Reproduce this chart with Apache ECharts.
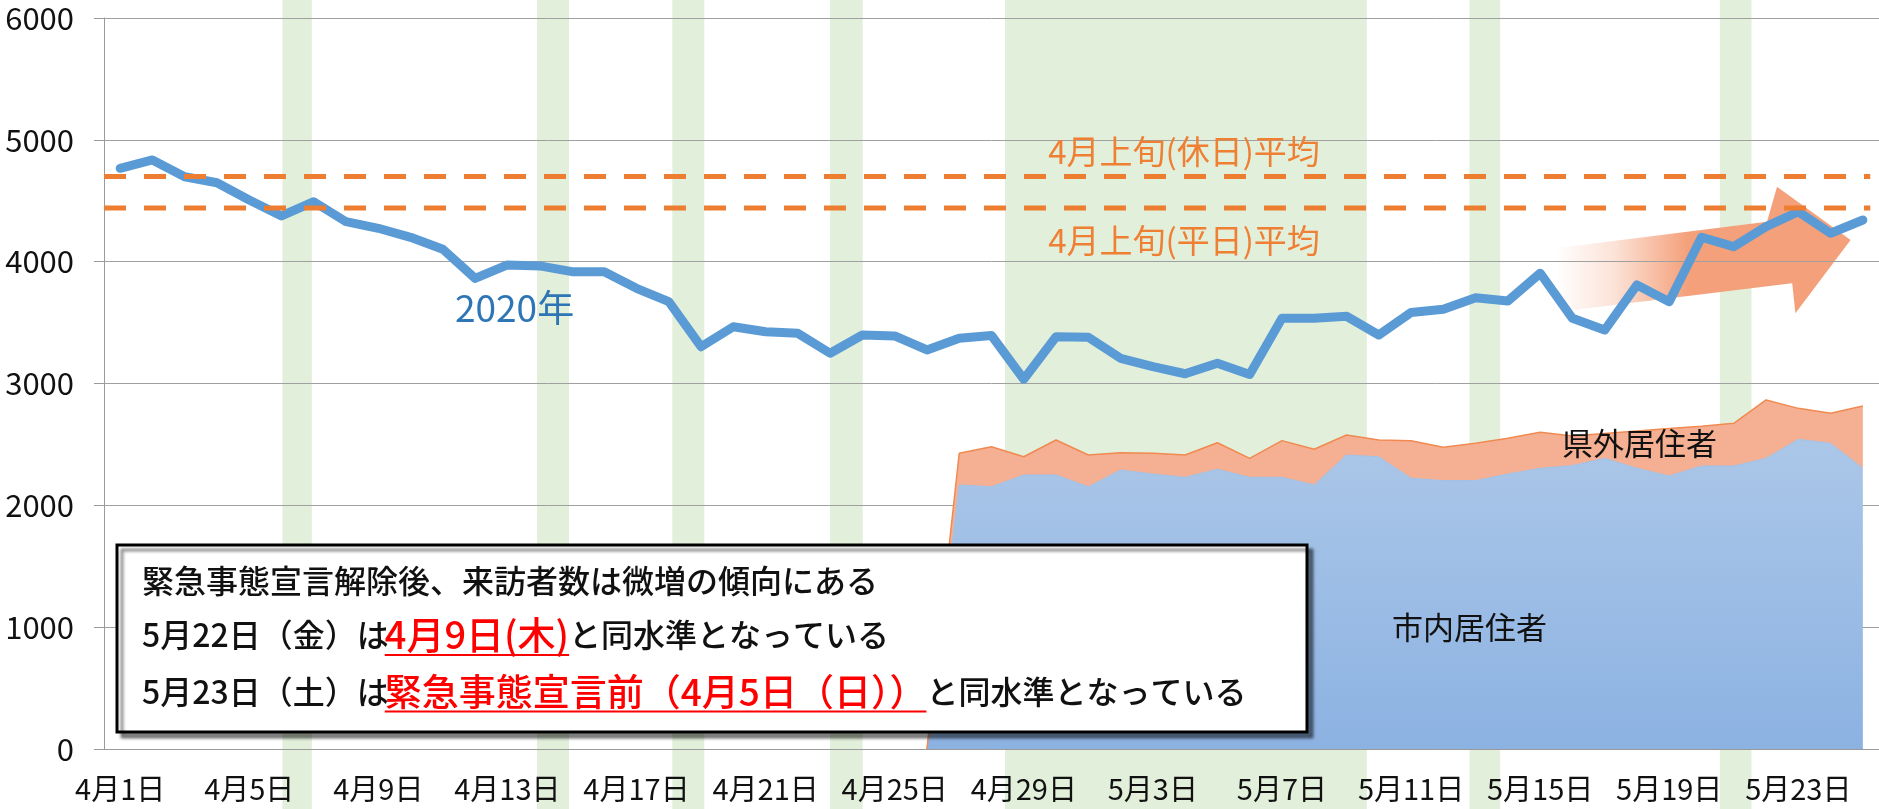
<!DOCTYPE html>
<html><head><meta charset="utf-8">
<script src="https://cdn.jsdelivr.net/npm/echarts@6/dist/echarts.min.js"></script>
<style>html,body{margin:0;padding:0;background:#fff}#c{width:1879px;height:809px}</style>
</head><body><div id="c"></div>
<script>
const categories = ['4月1日','4月2日','4月3日','4月4日','4月5日','4月6日','4月7日','4月8日','4月9日','4月10日',
'4月11日','4月12日','4月13日','4月14日','4月15日','4月16日','4月17日','4月18日','4月19日','4月20日',
'4月21日','4月22日','4月23日','4月24日','4月25日','4月26日','4月27日','4月28日','4月29日','4月30日',
'5月1日','5月2日','5月3日','5月4日','5月5日','5月6日','5月7日','5月8日','5月9日','5月10日',
'5月11日','5月12日','5月13日','5月14日','5月15日','5月16日','5月17日','5月18日','5月19日','5月20日',
'5月21日','5月22日','5月23日','5月24日','5月25日'];

const visitors2020 = [4766,4835,4697,4648,4506,4375,4492,4328,4274,4200,
4102,3863,3973,3965,3918,3918,3781,3672,3302,3466,
3425,3412,3248,3398,3390,3275,3371,3394,3035,3384,
3380,3207,3138,3080,3166,3074,3535,3535,3552,3398,
3583,3609,3704,3677,3905,3535,3439,3809,3672,4200,
4123,4287,4410,4233,4342];

const cityResidents = [null,null,null,null,null,null,null,null,null,null,
null,null,null,null,null,null,null,null,null,null,
null,null,null,null,null,0,2167,2153,2249,2249,
2153,2290,2257,2230,2296,2230,2230,2167,2413,2399,
2222,2203,2203,2257,2304,2326,2386,2304,2241,2323,
2323,2386,2542,2509,2304];

const outOfPrefResidents = [null,null,null,null,null,null,null,null,null,null,
null,null,null,null,null,null,null,null,null,null,
null,null,null,null,null,0,260,328,150,287,
260,142,170,183,218,156,301,293,164,137,
308,273,306,293,296,244,204,306,389,327,
350,479,254,246,511];

const avgHoliday = 4700;
const avgWeekday = 4440;

// shaded periods, in day units from the left edge of the category axis
const bandRanges = [[5.53,6.44],[13.42,14.41],[17.61,18.60],[22.50,23.51],[27.92,39.13],[42.31,43.26],[50.07,51.05]];

// trend arrow outline in (day units, visitors)
const arrowShape = [[44.98,4110],[51.53,4328],[51.84,4615],[54.12,4178],[52.41,3576],[52.31,3822],[45.08,3589]];

const FONT = '"Noto Sans CJK JP", "Noto Sans", sans-serif';
const GRAY = '#9a9a9a';

const option = {
  animation: false,
  backgroundColor: '#ffffff',
  grid: {left: 104, right: 0, top: 18, bottom: 60, containLabel: false},
  xAxis: [
    {type: 'category', data: categories, boundaryGap: true,
     axisLine: {lineStyle: {color: GRAY, width: 1}},
     axisTick: {interval: 3, length: 11, lineStyle: {color: GRAY}},
     axisLabel: {interval: 3, margin: 25, fontSize: 29, fontFamily: FONT, color: '#111'},
     splitLine: {show: false}},
    {type: 'value', min: 0, max: 55, show: false}
  ],
  yAxis: {type: 'value', min: 0, max: 6000, interval: 1000,
    axisLine: {show: true, lineStyle: {color: GRAY}},
    axisTick: {show: true, length: 10, lineStyle: {color: GRAY}},
    axisLabel: {margin: 30, fontSize: 31, fontFamily: FONT, color: '#111',
                formatter: function (v) { return String(v); }},
    splitLine: {lineStyle: {color: '#a0a0a0', width: 1}}},
  series: [
    {name: '市内居住者', type: 'line', stack: 'res', data: cityResidents, symbol: 'none', z: 2,
     lineStyle: {color: '#9fc0e6', width: 1},
     areaStyle: {opacity: 1, color: {type: 'linear', x: 0, y: 0, x2: 0, y2: 1,
       colorStops: [{offset: 0, color: '#abc7e8'}, {offset: 1, color: '#8cb2e2'}]}}},
    {name: '県外居住者', type: 'line', stack: 'res', data: outOfPrefResidents, symbol: 'none', z: 2,
     lineStyle: {color: '#f08a50', width: 1.5},
     areaStyle: {opacity: 1, color: '#f5b094'}},
    {name: '2020年', type: 'line', data: visitors2020, symbol: 'none', z: 5,
     lineStyle: {color: '#5B9BD5', width: 9, cap: 'round', join: 'round'}},
    {name: '4月上旬(休日)平均', type: 'line', xAxisIndex: 1, data: [[0, avgHoliday], [54.73, avgHoliday]],
     symbol: 'none', z: 6, lineStyle: {color: '#ED7D31', width: 5, type: [22, 18], cap: 'butt'}},
    {name: '4月上旬(平日)平均', type: 'line', xAxisIndex: 1, data: [[0, avgWeekday], [54.73, avgWeekday]],
     symbol: 'none', z: 6, lineStyle: {color: '#ED7D31', width: 5, type: [22, 18], cap: 'butt'}}
  ]
};

const chart = echarts.init(document.getElementById('c'), null, {renderer: 'canvas'});
chart.setOption(option);

function px(d, v) { return chart.convertToPixel({xAxisIndex: 1, yAxisIndex: 0}, [d, v]); }
const H = 809;
const g = [];
bandRanges.forEach(function (r) {
  const x1 = px(r[0], 0)[0], x2 = px(r[1], 0)[0];
  g.push({type: 'rect', z: -10, silent: true, shape: {x: x1, y: 0, width: x2 - x1, height: H},
          style: {fill: '#E2EFDA'}});
});
g.push({type: 'polygon', z: -5, silent: true,
  shape: {points: arrowShape.map(function (p) { return px(p[0], p[1]); })},
  style: {fill: {type: 'linear', x: 0, y: 0, x2: 1, y2: 0, global: false,
    colorStops: [{offset: 0, color: 'rgba(244,160,122,0)'}, {offset: 0.2, color: 'rgba(244,160,122,0.3)'},
                 {offset: 0.45, color: 'rgba(244,160,122,1)'}, {offset: 1, color: 'rgba(244,160,122,1)'}]}}});

function txt(t, x, y, size, color, align, weight) {
  g.push({type: 'text', z: 20, silent: true, x: x, y: y,
    style: {text: t, fontSize: size, fontFamily: FONT, fontWeight: weight || 'normal', fill: color,
            align: align || 'left', verticalAlign: 'middle'}});
}
txt('4月上旬(休日)平均', 1184, 151, 33, '#EE7F33', 'center');
txt('4月上旬(平日)平均', 1184, 240, 33, '#EE7F33', 'center');
txt('2020年', 455, 308, 37, '#2E75B6');
txt('県外居住者', 1562, 443, 31, '#111');
txt('市内居住者', 1392, 627, 31, '#111');

// message box
g.push({type: 'rect', z: 19, silent: true, shape: {x: 117, y: 545, width: 1190, height: 187},
  style: {fill: '#ffffff', stroke: '#000', lineWidth: 3, shadowBlur: 3, shadowOffsetX: 5, shadowOffsetY: 5,
          shadowColor: 'rgba(0,0,0,0.45)'}});
const cv = document.createElement('canvas').getContext('2d');
function tw(t, s, w) { cv.font = (w || 'normal') + ' ' + s + 'px ' + FONT; return cv.measureText(t).width; }
function addLine(segs, x, cy) {
  segs.forEach(function (sg) {
    x += (sg.dx || 0);
    const w = tw(sg.t, sg.s, sg.w);
    txt(sg.t, x, cy, sg.s, sg.c, 'left', sg.w);
    if (sg.u) g.push({type: 'line', z: 20, silent: true,
      shape: {x1: x, y1: cy + sg.s * 0.5 + 1, x2: x + w, y2: cy + sg.s * 0.5 + 1},
      style: {stroke: sg.c, lineWidth: 2}});
    x += w;
  });
}
addLine([{t: '緊急事態宣言解除後、来訪者数は微増の傾向にある', s: 32, c: '#111', w: 500}], 142, 581);
addLine([{t: '5月22日（金）は', s: 32, c: '#111', w: 500}, {t: '4月9日(木)', s: 38, c: '#FF0000', u: true, w: 500, dx: -4},
         {t: 'と同水準となっている', s: 32, c: '#111', w: 500}], 142, 635);
addLine([{t: '5月23日（土）は', s: 32, c: '#111', w: 500}, {t: '緊急事態宣言前（4月5日（日））', s: 37, c: '#FF0000', u: true, w: 500, dx: -4},
         {t: 'と同水準となっている', s: 32, c: '#111', w: 500}], 142, 692);

chart.setOption({graphic: g});
</script></body></html>
